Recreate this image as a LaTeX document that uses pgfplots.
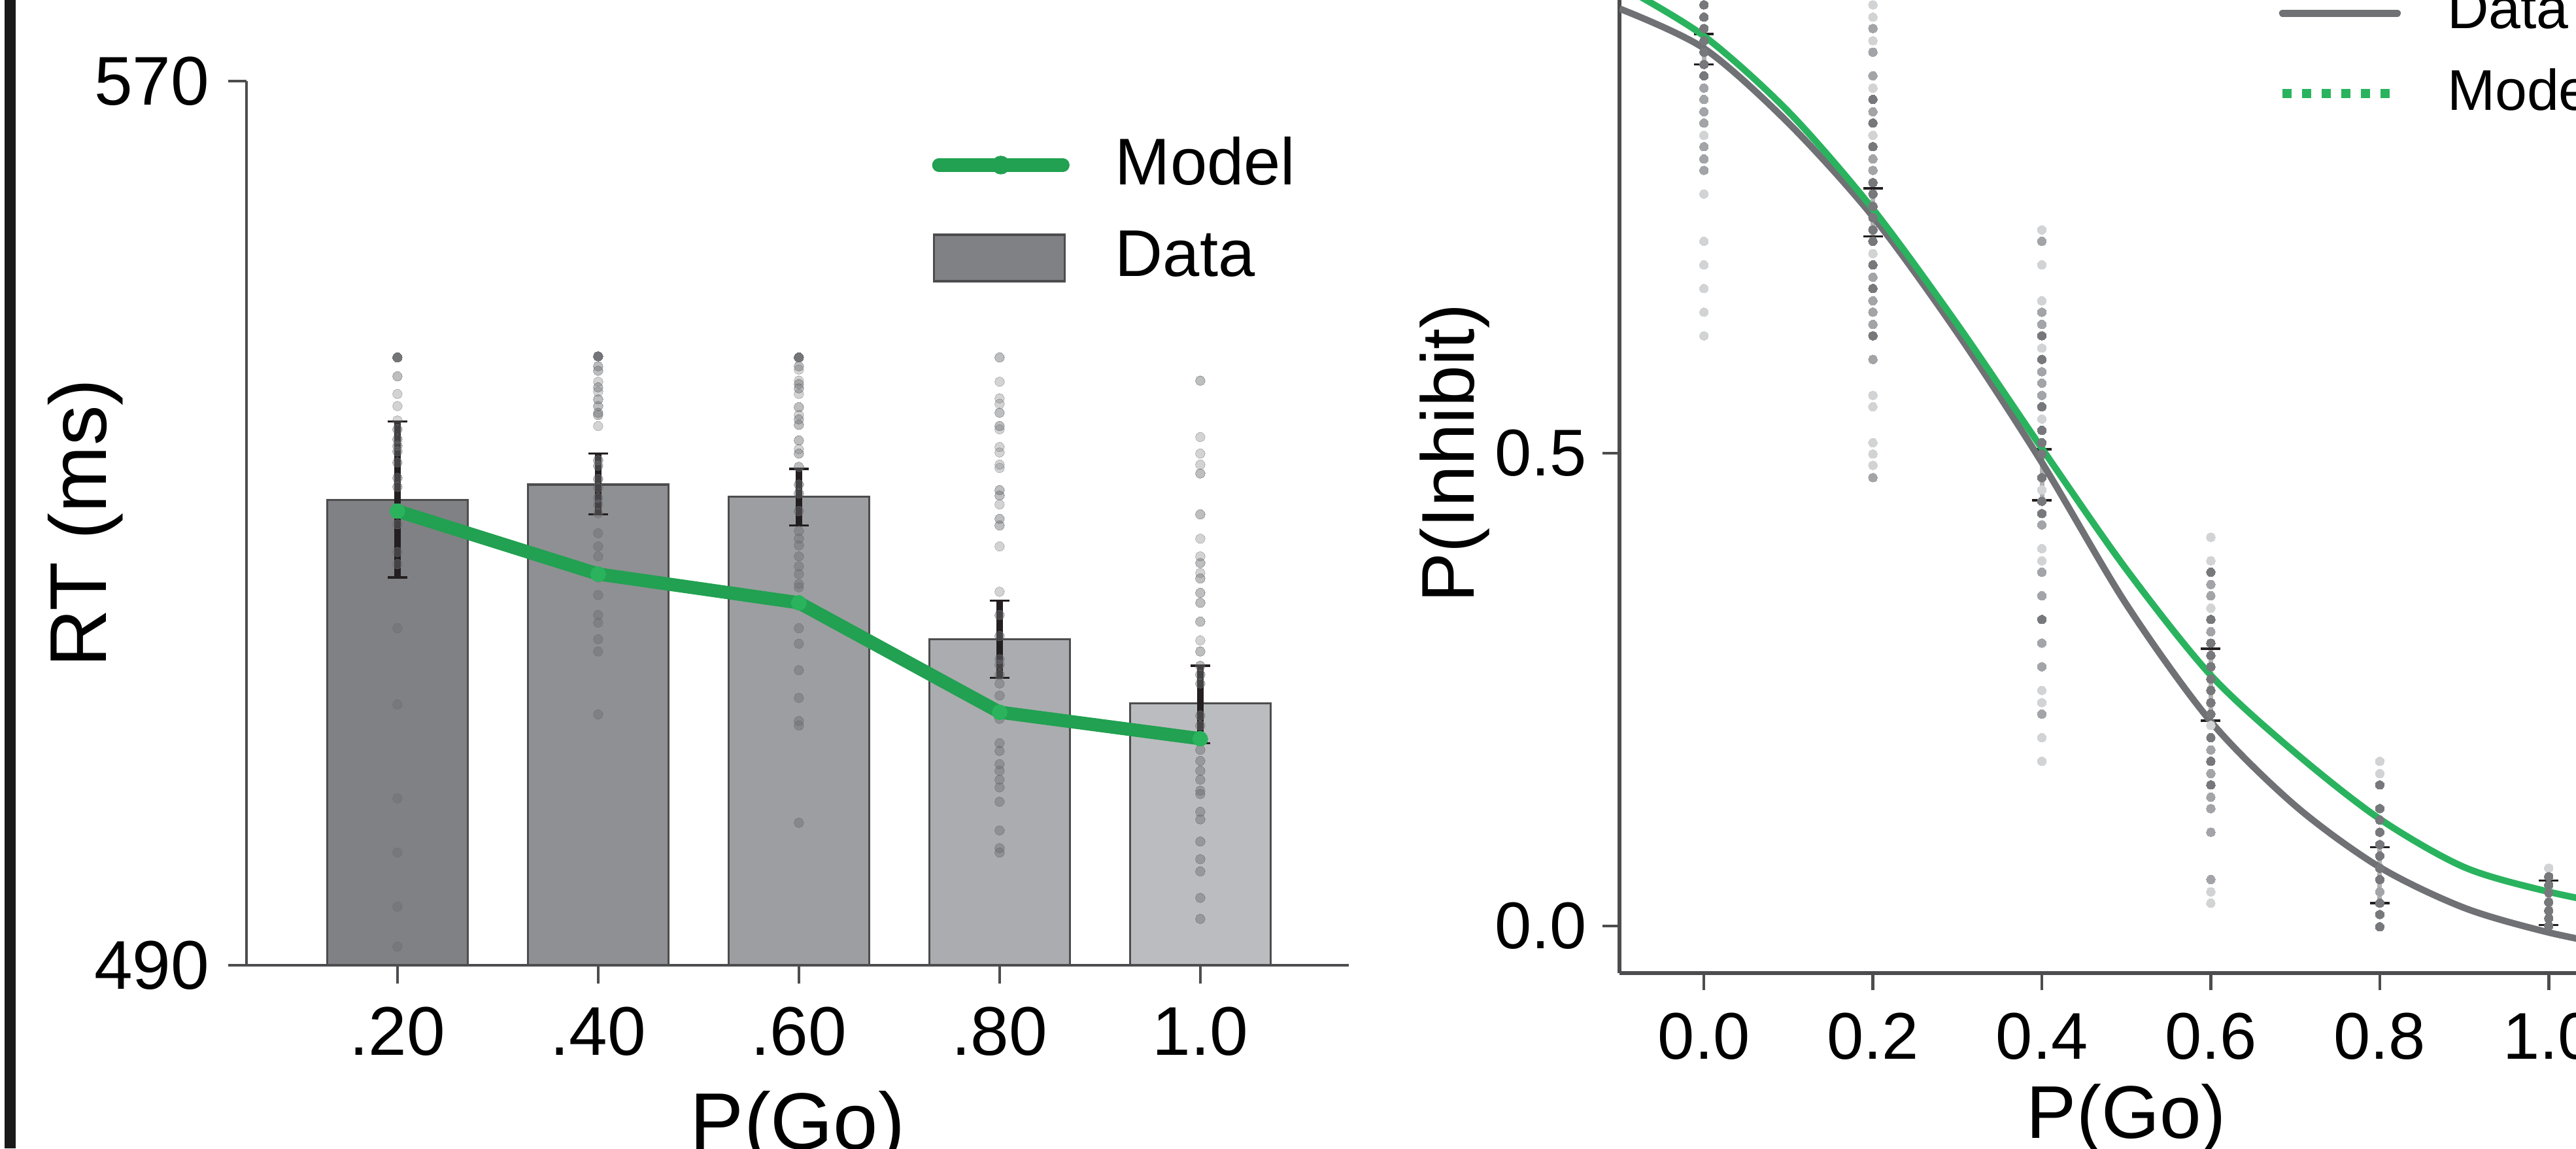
\documentclass[border=0pt]{standalone}
\usepackage{fontspec}
\setmainfont{Liberation Sans}
\usepackage{pgfplots}
\pgfplotsset{compat=1.18}

\definecolor{axgray}{HTML}{4D4D4F}
\definecolor{dotgray}{HTML}{6D6E71}
\definecolor{errblack}{HTML}{231F20}
\definecolor{modelgreen}{HTML}{21A151}
\definecolor{modelmark}{HTML}{2AB35C}
\definecolor{curvegreen}{HTML}{2AB35E}
\definecolor{curvegray}{HTML}{707175}
\definecolor{rdark}{HTML}{77787B}
\definecolor{rmed}{HTML}{A2A4A7}
\definecolor{rlight}{HTML}{D1D3D4}
\definecolor{barA}{HTML}{808184}
\definecolor{barB}{HTML}{8F9093}
\definecolor{barC}{HTML}{9D9EA1}
\definecolor{barD}{HTML}{ABACAF}
\definecolor{barE}{HTML}{BBBCBF}

\newcommand{\fs}[1]{\fontsize{#1}{#1}\selectfont}

\begin{document}
\begin{tikzpicture}
\useasboundingbox (0,0) rectangle (157.6mm,70.24mm);
\clip (0,0) rectangle (157.6mm,70.24mm);
\fill[black!90] (0.28mm,0) rectangle (0.96mm,70.24mm);

% ---------------- left panel: RT bars ----------------
\begin{axis}[
  at={(15.08mm,11.2mm)}, anchor=south west,
  scale only axis, width=67.44mm, height=54.08mm,
  xmin=0.248, xmax=5.74, ymin=490, ymax=570,
  axis x line*=bottom, axis y line*=left,
  axis line style={-, draw=axgray, line width=0.5pt},
  xtick={1,2,3,4,5}, xticklabels={.20,.40,.60,.80,1.0},
  ytick={490,570}, yticklabels={490,570},
  tick align=outside, major tick length=1.1mm,
  tick style={draw=axgray, line width=0.5pt},
  xticklabel style={font=\fs{12}, anchor=base, inner sep=0pt, yshift=-4.4mm},
  yticklabel style={font=\fs{12}, anchor=east, inner sep=0pt, xshift=-1.1mm},
  xlabel={P(Go)}, ylabel={RT (ms)},
  xlabel style={font=\fs{14}, at={(axis description cs:0.5,-0.185)}, anchor=center},
  ylabel style={font=\fs{14}, at={(axis description cs:-0.1459,0.5)}, anchor=center},
  legend cell align=left,
  legend style={draw=none, fill=none, at={(0.622,0.937)}, anchor=north west,
    inner sep=0pt, outer sep=0pt, font=\fs{11.5}, row sep=2.3mm, column sep=2.8mm,
    nodes={inner sep=0pt}},
]
\addplot[ybar, bar width=0.70, bar shift=0pt, fill=barA, draw=axgray, line width=0.4pt, forget plot] coordinates {(1,532.1)};
\addplot[ybar, bar width=0.70, bar shift=0pt, fill=barB, draw=axgray, line width=0.4pt, forget plot] coordinates {(2,533.5)};
\addplot[ybar, bar width=0.70, bar shift=0pt, fill=barC, draw=axgray, line width=0.4pt, forget plot] coordinates {(3,532.4)};
\addplot[ybar, bar width=0.70, bar shift=0pt, fill=barD, draw=axgray, line width=0.4pt, forget plot] coordinates {(4,519.5)};
\addplot[ybar, bar width=0.70, bar shift=0pt, fill=barE, draw=axgray, line width=0.4pt, forget plot] coordinates {(5,513.7)};

% standard errors
\addplot[draw=none, mark=none, forget plot,
  error bars/.cd, y dir=both, y explicit,
  error bar style={draw=errblack, line width=1.1pt},
  error mark options={rotate=90, mark size=0.6mm, line width=0.4pt, draw=errblack}]
  coordinates {(1,532.15) +- (0,7.05) (2,533.55) +- (0,2.75) (3,532.35) +- (0,2.55)
               (4,519.5) +- (0,3.5) (5,513.6) +- (0,3.5)};

% individual participants
\addplot[only marks, mark=*, mark size=0.82pt, color=dotgray, opacity=0.3, forget plot,
  mark options={solid, draw=dotgray, fill=dotgray, line width=0pt}] table {
x y
1 541.7
1 540.6
1 539.3
2 542.8
2 541.9
2 538.8
3 543.9
3 542.9
3 541.7
3 539.8
3 536.7
4 542.8
4 541.3
4 540.8
4 538.5
4 536.9
4 536.4
4 535.3
4 535.0
4 531.7
4 527.9
4 523.8
5 537.8
5 536.3
5 535.3
5 528.6
5 527.0
5 525.5
5 519.4
};
\addplot[only marks, mark=*, mark size=0.82pt, color=dotgray, opacity=0.45, forget plot,
  mark options={solid, draw=dotgray, fill=dotgray, line width=0pt}] table {
x y
1 543.3
1 538.5
1 537.6
1 537.0
1 536.5
1 535.5
1 534.1
1 533.3
1 529.9
1 527.4
1 526.3
1 520.5
1 513.6
1 505.1
1 500.2
1 495.3
1 491.7
2 544.2
2 543.8
2 542.3
2 541.2
2 540.6
2 540.0
2 539.8
2 535.7
2 535.2
2 534.0
2 533.2
2 532.3
2 531.7
2 530.9
2 529.1
2 527.9
2 527.0
2 525.1
2 523.5
2 521.7
2 521.0
2 519.5
2 518.4
2 512.7
3 544.2
3 542.6
3 542.2
3 540.5
3 539.4
3 538.9
3 537.5
3 536.3
3 535.1
3 533.5
3 532.7
3 531.1
3 529.3
3 528.6
3 528.0
3 527.0
3 526.1
3 525.4
3 524.5
3 524.2
3 520.5
3 519.1
3 516.7
3 514.2
3 512.1
3 511.7
3 502.9
4 545.0
4 540.0
4 538.8
4 533.0
4 532.5
4 530.4
4 529.8
4 521.7
4 519.8
4 517.7
4 517.2
4 516.3
4 515.5
4 514.4
4 512.3
4 510.1
4 509.4
4 508.2
4 507.6
4 506.8
4 506.1
4 504.8
4 502.2
4 500.6
4 500.2
5 542.9
5 534.5
5 530.8
5 526.4
5 525.0
5 523.7
5 522.8
5 521.1
5 518.4
5 517.1
5 516.3
5 515.5
5 512.6
5 511.7
5 509.5
5 508.5
5 507.6
5 506.8
5 505.8
5 505.5
5 503.9
5 503.2
5 501.2
5 499.6
5 498.5
5 496.1
5 494.2
};
\addplot[only marks, mark=*, mark size=0.82pt, color=dotgray, opacity=0.95, forget plot,
  mark options={solid, draw=dotgray, fill=dotgray, line width=0pt}] table {
x y
1 545.0
2 545.1
3 545.0
};

% model
\addplot[modelgreen, line width=2.3pt, line join=round, mark=*, mark size=1.3pt,
  mark options={fill=modelmark, draw=modelmark, line width=0pt}, forget plot]
  coordinates {(1,531.1) (2,525.4) (3,522.8) (4,512.9) (5,510.5)};

\addlegendimage{legend image code/.code={
  \draw[modelgreen, line width=2.3pt, line cap=round] (0.3mm,0mm) -- (7.9mm,0mm);
  \fill[modelgreen] (4.1mm,0mm) circle (0.5mm);}}
\addlegendentry{Model}
\addlegendimage{legend image code/.code={
  \filldraw[fill=barA, draw=axgray, line width=0.4pt] (0mm,-1.42mm) rectangle (8mm,1.42mm);}}
\addlegendentry{Data}
\end{axis}

% ---------------- right panel: P(Inhibit) ----------------
\begin{axis}[
  at={(99.08mm,10.72mm)}, anchor=south west,
  scale only axis, width=62.02mm, height=63.62mm,
  xmin=-0.1, xmax=1.1, ymin=-0.05, ymax=1.05,
  axis x line*=bottom, axis y line*=left,
  axis line style={-, draw=axgray, line width=0.6pt},
  xtick={0,0.2,0.4,0.6,0.8,1}, xticklabels={0.0,0.2,0.4,0.6,0.8,1.0},
  ytick={0,0.5}, yticklabels={0.0,0.5},
  tick align=outside, major tick length=1.05mm,
  tick style={draw=axgray, line width=0.5pt},
  xticklabel style={font=\fs{11.5}, anchor=base, inner sep=0pt, yshift=-4.2mm},
  yticklabel style={font=\fs{11.5}, anchor=east, inner sep=0pt, xshift=-0.9mm},
  xlabel={P(Go)}, ylabel={P(Inhibit)},
  xlabel style={font=\fs{13}, at={(axis description cs:0.5,-0.140)}, anchor=center},
  ylabel style={font=\fs{13}, at={(axis description cs:-0.1629,0.5)}, anchor=center},
  legend cell align=left,
  legend style={draw=none, fill=none, at={(0.650,0.946)}, anchor=north west,
    inner sep=0pt, outer sep=0pt, font=\fs{10}, row sep=1.9mm, column sep=2.8mm,
    nodes={inner sep=0pt}},
]
\addplot[only marks, mark=*, mark size=0.76pt, color=rlight, forget plot,
  mark options={solid, draw=rlight, fill=rlight, line width=0pt}] table {
x y
0 0.836
0 0.774
0 0.724
0 0.699
0 0.674
0 0.649
0 0.624
0.2 0.986
0.2 0.974
0.2 0.961
0.2 0.936
0.2 0.886
0.2 0.836
0.2 0.711
0.2 0.561
0.2 0.549
0.2 0.511
0.2 0.499
0.2 0.487
0.4 0.736
0.4 0.699
0.4 0.661
0.4 0.611
0.4 0.536
0.4 0.461
0.4 0.399
0.4 0.386
0.4 0.249
0.4 0.236
0.4 0.199
0.4 0.174
0.6 0.411
0.6 0.386
0.6 0.336
0.6 0.212
0.6 0.036
0.6 0.024
0.8 0.174
0.8 0.161
1.0 0.061
};
\addplot[only marks, mark=*, mark size=0.76pt, color=rmed, forget plot,
  mark options={solid, draw=rmed, fill=rmed, line width=0pt}] table {
x y
0 0.886
0 0.874
0 0.861
0 0.849
0 0.824
0 0.811
0 0.799
0.2 0.949
0.2 0.924
0.2 0.899
0.2 0.861
0.2 0.811
0.2 0.799
0.2 0.686
0.2 0.661
0.2 0.649
0.2 0.636
0.2 0.599
0.2 0.474
0.4 0.724
0.4 0.649
0.4 0.636
0.4 0.586
0.4 0.574
0.4 0.561
0.4 0.424
0.4 0.374
0.4 0.349
0.4 0.299
0.4 0.274
0.4 0.224
0.6 0.361
0.6 0.349
0.6 0.311
0.6 0.186
0.6 0.161
0.6 0.136
0.6 0.124
0.6 0.099
0.6 0.049
0.8 0.036
};
\addplot[only marks, mark=*, mark size=0.76pt, color=rdark, forget plot,
  mark options={solid, draw=rdark, fill=rdark, line width=0pt}] table {
x y
0 0.999
0 0.986
0 0.974
0 0.961
0 0.949
0 0.936
0 0.924
0 0.911
0 0.899
0.2 0.874
0.2 0.849
0.2 0.824
0.2 0.786
0.2 0.774
0.2 0.761
0.2 0.749
0.2 0.736
0.2 0.724
0.2 0.699
0.2 0.674
0.2 0.624
0.4 0.624
0.4 0.599
0.4 0.549
0.4 0.524
0.4 0.511
0.4 0.499
0.4 0.474
0.4 0.449
0.4 0.436
0.4 0.324
0.6 0.374
0.6 0.324
0.6 0.299
0.6 0.286
0.6 0.274
0.6 0.261
0.6 0.249
0.6 0.236
0.6 0.224
0.6 0.199
0.6 0.174
0.6 0.149
0.8 0.149
0.8 0.124
0.8 0.112
0.8 0.099
0.8 0.086
0.8 0.074
0.8 0.061
0.8 0.049
0.8 0.024
0.8 0.012
0.8 -0.001
1.0 0.052
1.0 0.043
1.0 0.035
1.0 0.025
1.0 0.016
1.0 0.008
1.0 0.000
};

% group means with SE
\addplot[draw=none, mark=none, forget plot,
  error bars/.cd, y dir=both, y explicit,
  error bar style={draw=black!30, line width=0.8pt},
  error mark options={rotate=90, mark size=0.6mm, line width=0.4pt, draw=errblack}]
  coordinates {(0,0.927) +- (0,0.016) (0.2,0.7545) +- (0,0.0255) (0.4,0.477) +- (0,0.027)
               (0.6,0.255) +- (0,0.038) (0.8,0.0535) +- (0,0.0295) (1.0,0.0245) +- (0,0.0235)};

% fitted curves
\addplot[curvegray, line width=1.15pt, smooth, forget plot] coordinates {
(-0.1,0.970) (0.0,0.928) (0.1,0.849) (0.2,0.750) (0.3,0.627) (0.4,0.490)
(0.5,0.340) (0.6,0.216) (0.7,0.127) (0.8,0.062) (0.9,0.019) (1.0,-0.007) (1.1,-0.025)};
\addplot[curvegreen, line width=1.15pt, smooth, forget plot] coordinates {
(-0.1,0.995) (0.0,0.941) (0.1,0.861) (0.2,0.758) (0.3,0.636) (0.4,0.505)
(0.5,0.377) (0.6,0.265) (0.7,0.183) (0.8,0.113) (0.9,0.062) (1.0,0.036) (1.1,0.018)};

\addlegendimage{legend image code/.code={
  \draw[curvegray, line width=1.3pt, line cap=round] (0mm,0mm) -- (7mm,0mm);}}
\addlegendentry{Data}
\addlegendimage{legend image code/.code={
  \draw[curvegreen, line width=1.5pt, dash pattern=on 0.56mm off 0.64mm] (0mm,0mm) -- (7mm,0mm);}}
\addlegendentry{Model}
\end{axis}
\end{tikzpicture}
\end{document}
